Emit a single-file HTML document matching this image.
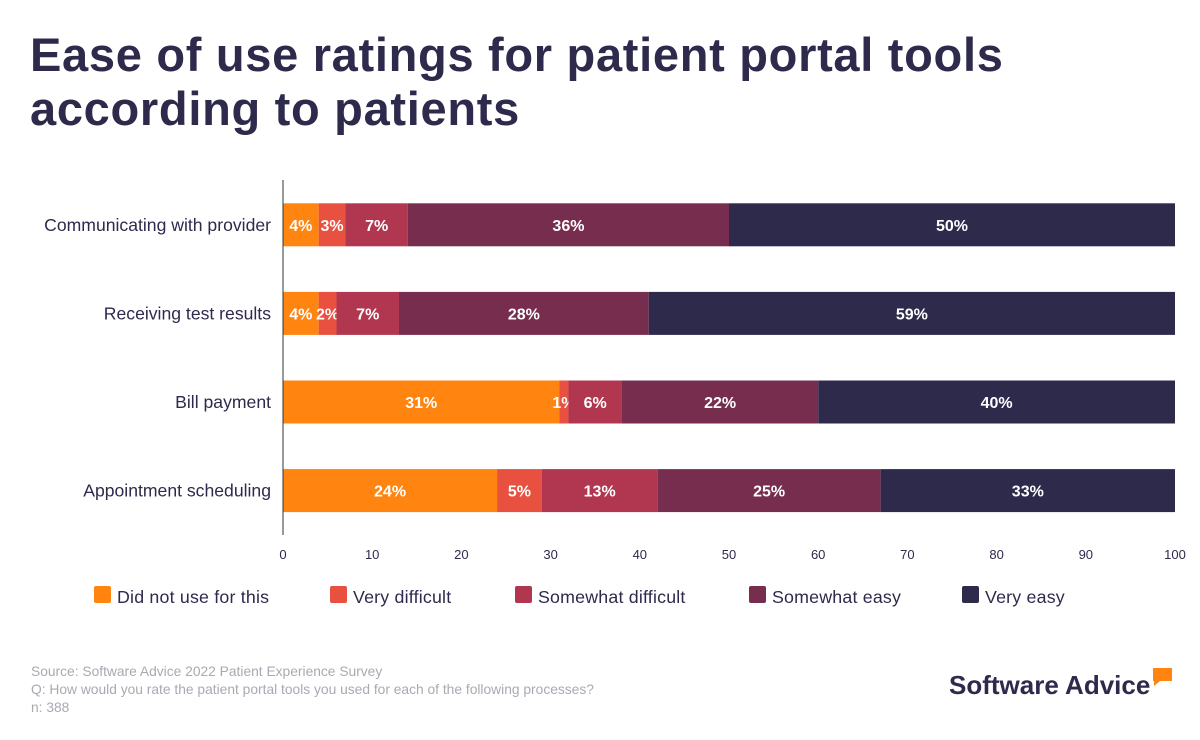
<!DOCTYPE html>
<html><head><meta charset="utf-8"><style>
body{margin:0;background:#fff;width:1200px;height:740px;overflow:hidden;font-family:"Liberation Sans",sans-serif}
#t{position:absolute;left:30px;top:28px;margin:0;font-size:47px;line-height:54px;font-weight:bold;color:#2d2a4c;letter-spacing:0.7px}
</style></head><body>
<h1 id="t">Ease of use ratings for patient portal tools<br>according to patients</h1>
<svg id="c" width="1200" height="740" style="position:absolute;left:0;top:0"></svg>
<script>
const categories=["Communicating with provider","Receiving test results","Bill payment","Appointment scheduling"];
const seriesNames=["Did not use for this","Very difficult","Somewhat difficult","Somewhat easy","Very easy"];
const notUsed=[4,4,31,24];
const veryDifficult=[3,2,1,5];
const somewhatDifficult=[7,7,6,13];
const somewhatEasy=[36,28,22,25];
const veryEasy=[50,59,40,33];
const ticks=[0,10,20,30,40,50,60,70,80,90,100];
const colors=["#ff8410","#e8503f","#b0374f","#772d4e","#2d2a4c"];
const series=[notUsed,veryDifficult,somewhatDifficult,somewhatEasy,veryEasy];
const NS="http://www.w3.org/2000/svg";
const svg=document.getElementById('c');
const x0=283,x1=1175,yTop=180,band=88.6;
const xs=v=>x0+(x1-x0)*v/100;
const yc=i=>yTop+band*(i+0.5)+0.5;
function mk(tag,a,txt){const e=document.createElementNS(NS,tag);for(const k in a)e.setAttribute(k,a[k]);if(txt!==undefined)e.textContent=txt;svg.appendChild(e);return e;}
categories.forEach((c,i)=>{
  const t=mk('text',{x:271,y:yc(i)+6,'text-anchor':'end','font-size':17.6,fill:'#2d2a4c'},c);
  
  
  let acc=0;
  series.forEach((s,j)=>{
    const v=s[i];
    const r=mk('rect',{x:xs(acc),y:yc(i)-21.5,width:xs(acc+v)-xs(acc),height:43,fill:colors[j]});
    
    
    const l=mk('text',{x:(xs(acc)+xs(acc+v))/2,y:yc(i)+6,'text-anchor':'middle','font-size':16,'font-weight':'bold',fill:'#fff'},v+'%');
    
    
    acc+=v;
  });
});
const ax=mk('line',{x1:x0,y1:yTop,x2:x0,y2:535,stroke:'#333','stroke-width':1});


ticks.forEach(t=>{
  const e=mk('text',{x:xs(t),y:559,'text-anchor':'middle','font-size':13,fill:'#2d2a4c'},t);
  
  
});
const lx=[94,330,515,749,962];
seriesNames.forEach((n,j)=>{
  const r=mk('rect',{x:lx[j],y:586,width:17,height:17,rx:2,fill:colors[j]});
  
  
  const t=mk('text',{x:lx[j]+23,y:603,'font-size':17.8,'letter-spacing':0.2,fill:'#2d2a4c'},n);
  
  
});
["Source: Software Advice 2022 Patient Experience Survey","Q: How would you rate the patient portal tools you used for each of the following processes?","n: 388"].forEach((s,k)=>{
  const t=mk('text',{x:31,y:676+k*18,'font-size':13.8,fill:'#a9a9b3'},s);
  
  
});
const lg=mk('text',{x:949,y:694,'font-size':26,'font-weight':'bold',fill:'#2d2a4c'},'Software Advice');


const bub=mk('path',{d:'M1153 668h19v13h-12l-6 5v-5h-1z',fill:'#ff8410'});


</script>
</body></html>
